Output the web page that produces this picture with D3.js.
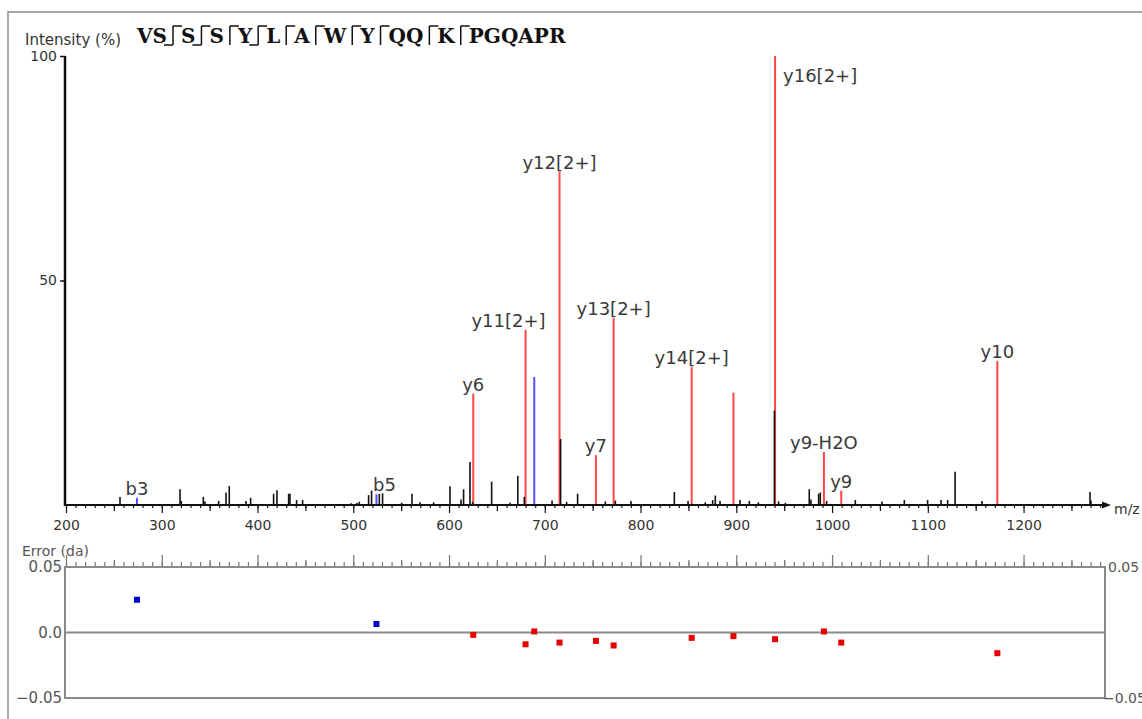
<!DOCTYPE html>
<html>
<head>
<meta charset="utf-8">
<script src="https://cdn.jsdelivr.net/npm/d3@7"></script>
<style>
  body { margin: 0; background: #fff; }
  svg { display: block; font-family: "DejaVu Sans", Verdana, sans-serif; }
</style>
</head>
<body>
<svg id="chart" width="1142" height="719"></svg>
<script>
// peptide and where fragments were matched (cleavage after residue n)
const sequence = 'VSSSYLAWYQQKPGQAPR'.split('');
const bCleavages = [2, 3, 5];
const yCleavages = [2, 3, 4, 5, 6, 7, 8, 9, 11, 12];

// matched fragment peaks
const ionLabels = ['b3', 'b5', 'y6', 'y11[2+]', '', 'y12[2+]', 'y7', 'y13[2+]', 'y14[2+]', '', 'y16[2+]', 'y9-H2O', 'y9', 'y10'];
const ionSeries = ['b', 'b', 'y', 'y', 'b', 'y', 'y', 'y', 'y', 'y', 'y', 'y', 'y', 'y'];
const ionMz = [274.1, 524.2, 625.3, 679.9, 689.0, 715.4, 753.4, 771.9, 853.4, 897.0, 940.5, 991.5, 1009.6, 1172.6];
const ionIntensity = [1.6, 2.4, 24.8, 39.0, 28.5, 74.2, 11.1, 41.6, 30.7, 25.0, 100, 11.8, 3.2, 32.1];

// unmatched peaks
const otherMz = [256.4, 319.1, 320.4, 343.4, 345.1, 359.4, 367.1, 370.5, 388.0, 392.8, 416.8, 420.3, 432.5, 433.9,
  440.8, 447.1, 497.6, 503.9, 506.3, 516.0, 519.1, 527.2, 530.6, 550.5, 561.3, 569.7, 583.9, 601.0, 612.5, 615.2,
  621.9, 624.6, 644.5, 663.7, 671.8, 678.6, 707.6, 716.5, 722.8, 734.3, 763.2, 773.7, 790.0, 835.3, 849.6, 867.6,
  875.3, 878.1, 883.0, 903.9, 913.6, 923.0, 939.8, 944.2, 951.2, 976.2, 978.0, 986.0, 987.7, 994.3, 1024.3, 1052.2,
  1075.5, 1099.8, 1113.8, 1120.7, 1128.5, 1156.6, 1269.4, 1270.4];
const otherIntensity = [1.8, 3.5, 0.9, 1.8, 0.8, 0.9, 2.8, 4.2, 0.9, 1.6, 2.5, 3.3, 2.5, 2.5,
  1.1, 1.1, 0.4, 0.5, 0.7, 2.2, 3.2, 2.5, 2.6, 0.5, 2.5, 0.6, 0.6, 4.2, 1.2, 3.5,
  9.6, 0.7, 5.2, 0.5, 6.5, 1.8, 1.0, 14.7, 0.7, 2.5, 0.8, 1.0, 0.9, 2.9, 0.9, 0.6,
  1.1, 2.1, 0.9, 1.1, 0.9, 0.6, 21.0, 0.8, 0.5, 3.5, 1.2, 2.5, 2.8, 0.9, 1.1, 0.8,
  1.1, 1.1, 1.1, 1.1, 7.4, 0.9, 2.9, 1.0];

// mass error of each matched peak (da)
const errDa = [0.025, 0.0065, -0.0018, -0.009, 0.0008, -0.0077, -0.0064, -0.0099, -0.0041, -0.0028, -0.0051, 0.0008, -0.0077, -0.0158];
const errSeries = ['b', 'b', 'y', 'y', 'y', 'y', 'y', 'y', 'y', 'y', 'y', 'y', 'y', 'y'];

const xTicks = [200, 300, 400, 500, 600, 700, 800, 900, 1000, 1100, 1200];
const intensityTicks = [50, 100];
const errorTicks = [-0.05, 0, 0.05];

const svg = d3.select('#chart');
const lineColor = { b: '#5050ff', y: '#ff4646' };
const dotColor = { b: '#0000d0', y: '#e60000' };

const x = d3.scaleLinear().domain([200, 1284]).range([66, 1104]);
const yInt = d3.scaleLinear().domain([0, 100]).range([505, 56]);
const yErr = d3.scaleLinear().domain([-0.05, 0.05]).range([698, 567]);

// outer frame
svg.append('rect')
  .attr('x', 8).attr('y', 12).attr('width', 1300).attr('height', 900)
  .attr('fill', 'none').attr('stroke', '#8c8c8c').attr('stroke-width', 1.5);

// title + sequence
svg.append('text').attr('x', 25).attr('y', 45)
  .attr('font-size', 15).attr('fill', '#333').text('Intensity (%)');

const seqG = svg.append('g');
let cx = 137;
const seqBase = 43;
sequence.forEach((aa, i) => {
  const t = seqG.append('text')
    .attr('x', cx).attr('y', seqBase)
    .attr('font-family', '"DejaVu Serif", serif')
    .attr('font-weight', 'bold')
    .attr('font-size', 20)
    .attr('fill', '#111')
    .text(aa);
  cx += t.node().getComputedTextLength();
  const n = i + 1;
  const hasB = bCleavages.includes(n);
  const hasY = yCleavages.includes(n);
  if (hasB || hasY) {
    const mx = cx + 6;
    seqG.append('line').attr('x1', mx).attr('x2', mx).attr('y1', 26).attr('y2', 45)
      .attr('stroke', '#111').attr('stroke-width', 1.5);
    if (hasB) {
      seqG.append('line').attr('x1', mx - 9).attr('x2', mx).attr('y1', 45).attr('y2', 45)
        .attr('stroke', '#111').attr('stroke-width', 1.5);
    }
    if (hasY) {
      seqG.append('line').attr('x1', mx).attr('x2', mx + 9).attr('y1', 26).attr('y2', 26)
        .attr('stroke', '#111').attr('stroke-width', 1.5);
    }
    cx += 14;
  }
});

// spectrum: matched peaks first, unmatched drawn on top
const ions = ionMz.map((mz, i) => ({
  mz, intensity: ionIntensity[i], label: ionLabels[i], series: ionSeries[i], err: errDa[i], errSeries: errSeries[i]
}));
const others = otherMz.map((mz, i) => ({ mz, intensity: otherIntensity[i] }));

svg.append('g').selectAll('line')
  .data(ions).enter().append('line')
  .attr('x1', d => x(d.mz)).attr('x2', d => x(d.mz))
  .attr('y1', yInt(0)).attr('y2', d => yInt(d.intensity))
  .attr('stroke', d => lineColor[d.series]).attr('stroke-width', 2);

svg.append('g').selectAll('line')
  .data(others).enter().append('line')
  .attr('x1', d => x(d.mz)).attr('x2', d => x(d.mz))
  .attr('y1', yInt(0)).attr('y2', d => yInt(d.intensity))
  .attr('stroke', '#111').attr('stroke-width', 1.6);

// peak labels
const nudge = { 'y11[2+]': -17, 'b5': 8 };
svg.append('g').selectAll('text')
  .data(ions.filter(d => d.label)).enter().append('text')
  .attr('font-size', 18).attr('fill', '#3a3a3a')
  .attr('text-anchor', d => d.intensity > 95 ? 'start' : 'middle')
  .attr('x', d => x(d.mz) + (d.intensity > 95 ? 8 : (nudge[d.label] || 0)))
  .attr('y', d => d.intensity > 95 ? yInt(d.intensity) + 26 : yInt(d.intensity) - 3)
  .text(d => d.label);

// x axis
const xAxisG = svg.append('g').attr('transform', `translate(0,${yInt(0)})`);
xAxisG.append('g').call(d3.axisBottom(x).tickValues(d3.range(200, 1281, 10)).tickSize(3).tickFormat(''));
xAxisG.append('g').call(d3.axisBottom(x).tickValues(d3.range(250, 1281, 100)).tickSize(6).tickFormat(''));
xAxisG.append('g').call(d3.axisBottom(x).tickValues(xTicks).tickSize(8).tickPadding(7).tickFormat(d3.format('d')));
xAxisG.selectAll('.domain').remove();
xAxisG.selectAll('line').attr('stroke', '#111').attr('stroke-width', 1.2);
xAxisG.selectAll('text').attr('font-size', 14).attr('fill', '#333')
  .attr('font-family', '"DejaVu Sans", Verdana, sans-serif');

svg.append('line').attr('x1', 64).attr('x2', 1106).attr('y1', yInt(0)).attr('y2', yInt(0))
  .attr('stroke', '#111').attr('stroke-width', 2);
svg.append('path').attr('d', `M1102,${yInt(0) - 3.5}L1111,${yInt(0)}L1102,${yInt(0) + 3.5}Z`).attr('fill', '#111');
svg.append('text').attr('x', 1114).attr('y', yInt(0) + 9)
  .attr('font-size', 14).attr('fill', '#333').text('m/z');

// y axis
const yAxisG = svg.append('g').attr('transform', 'translate(65,0)')
  .call(d3.axisLeft(yInt).tickValues(intensityTicks).tickSize(5).tickPadding(3));
yAxisG.select('.domain').remove();
yAxisG.selectAll('line').attr('stroke', '#111').attr('stroke-width', 1.5);
yAxisG.selectAll('text').attr('font-size', 14).attr('fill', '#333')
  .attr('font-family', '"DejaVu Sans", Verdana, sans-serif');
svg.append('line').attr('x1', 65).attr('x2', 65).attr('y1', yInt(100)).attr('y2', yInt(0) + 1)
  .attr('stroke', '#111').attr('stroke-width', 2.5);

// error panel
const errG = svg.append('g');
errG.append('text').attr('x', 22).attr('y', 556)
  .attr('font-size', 14).attr('fill', '#555').text('Error (da)');

const topTicks = errG.append('g').attr('transform', `translate(0,${yErr(0.05)})`);
topTicks.append('g').call(d3.axisTop(x).tickValues(d3.range(200, 1281, 10)).tickSize(5).tickFormat(''));
topTicks.append('g').call(d3.axisTop(x).tickValues(d3.range(250, 1281, 100)).tickSize(7).tickFormat(''));
topTicks.append('g').call(d3.axisTop(x).tickValues(xTicks).tickSize(12).tickFormat(''));
topTicks.selectAll('.domain').remove();
topTicks.selectAll('line').attr('stroke', '#777').attr('stroke-width', 1.2);

errG.append('rect')
  .attr('x', 65).attr('y', yErr(0.05)).attr('width', 1040).attr('height', yErr(-0.05) - yErr(0.05))
  .attr('fill', 'none').attr('stroke', '#8a8a8a').attr('stroke-width', 2);
errG.append('line').attr('x1', 65).attr('x2', 1105).attr('y1', yErr(0)).attr('y2', yErr(0))
  .attr('stroke', '#8a8a8a').attr('stroke-width', 2);

const errFmt = d => d === 0 ? '0.0' : d3.format('.2f')(d);
errG.append('g').selectAll('text').data(errorTicks).enter().append('text')
  .attr('x', 62).attr('y', d => yErr(d) + 5).attr('text-anchor', 'end')
  .attr('font-size', 15).attr('fill', '#555').text(errFmt);
errG.append('g').selectAll('text').data(errorTicks.filter(d => d !== 0)).enter().append('text')
  .attr('x', d => d < 0 ? 1103 : 1108).attr('y', d => yErr(d) + 5)
  .attr('font-size', 14).attr('fill', '#555').text(errFmt);

errG.append('g').selectAll('rect.dot').data(ions).enter().append('rect')
  .attr('class', 'dot')
  .attr('x', d => x(d.mz) - 3).attr('y', d => yErr(d.err) - 3)
  .attr('width', 6).attr('height', 6)
  .attr('fill', d => dotColor[d.errSeries]);
</script>
</body>
</html>
